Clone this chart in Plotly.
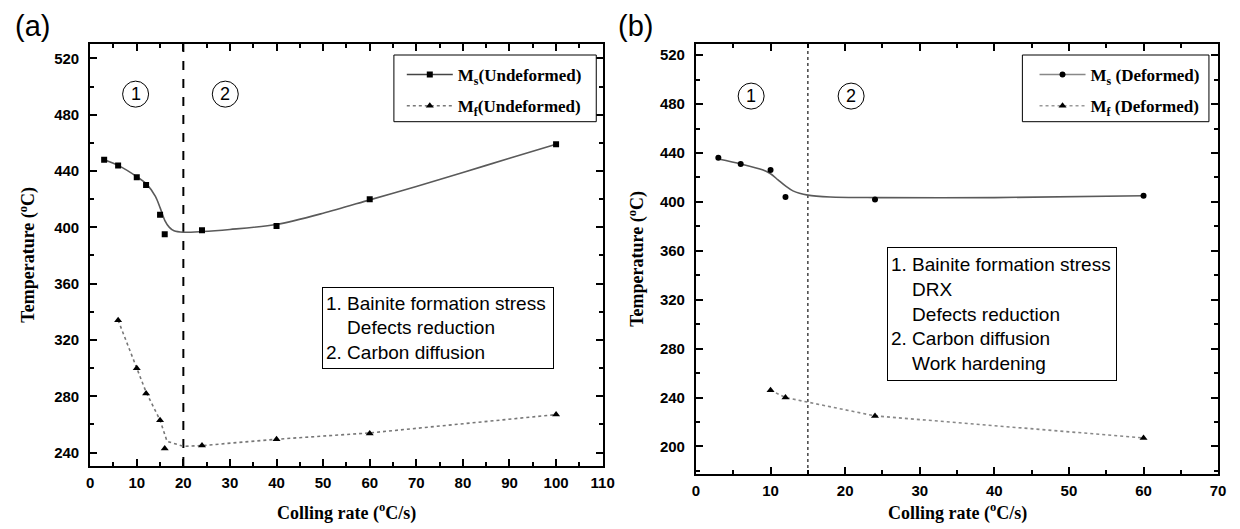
import plotly.graph_objects as go

# ---------------- data ----------------
# (a) undeformed
ms_und_x = [3, 6, 10, 12, 15, 16, 24, 40, 60, 100]
ms_und_y = [448, 444, 435.5, 430, 409, 395, 398, 401, 420, 459]
ms_und_fit_x = [3, 6, 10, 12, 14, 15, 16, 17, 18, 20, 24, 30, 40, 50, 60, 70, 80, 90, 100]
ms_und_fit_y = [448, 444, 436, 431, 422, 414, 405, 400, 397.5, 396.5, 397, 398.5, 402, 410, 419.5, 429, 439, 449, 459]
mf_und_x = [6, 10, 12, 15, 16, 24, 40, 60, 100]
mf_und_y = [334, 300, 282, 263, 243, 245, 249.5, 253.5, 267]
mf_und_fit_x = [6, 10, 12, 15, 16.5, 20, 24, 40, 60, 100]
mf_und_fit_y = [334, 300, 283, 263, 248, 244.5, 245, 249.5, 254, 267]

# (b) deformed
ms_def_x = [3, 6, 10, 12, 24, 60]
ms_def_y = [436, 431, 426, 404, 402, 405]
ms_def_fit_x = [3, 6, 9, 10, 11, 12, 13, 15, 18, 24, 40, 60]
ms_def_fit_y = [435, 431, 426, 423, 418, 413, 409, 405.5, 404, 403.5, 403.5, 405]
mf_def_x = [10, 12, 24, 60]
mf_def_y = [246, 240, 225, 207]

split_a = 20
split_b = 15

x_ticks_a = list(range(0, 111, 10))
y_ticks_a = list(range(240, 521, 40))
x_ticks_b = list(range(0, 71, 10))
y_ticks_b = list(range(200, 521, 40))

W, H = 1240, 529

def px(x):
    return x / W

def py(y):
    return (H - y) / H

fig = go.Figure()

CURVE = "#5a5a5a"

# ---- panel (a) ----
fig.add_trace(go.Scatter(x=ms_und_fit_x, y=ms_und_fit_y, mode="lines", line=dict(color=CURVE, width=1.6, shape="spline", smoothing=0.8),
                         showlegend=False, hoverinfo="skip", xaxis="x", yaxis="y"))
fig.add_trace(go.Scatter(x=ms_und_x, y=ms_und_y, mode="markers", marker=dict(symbol="square", size=6, color="black"),
                         showlegend=False, xaxis="x", yaxis="y"))
fig.add_trace(go.Scatter(x=mf_und_fit_x, y=mf_und_fit_y, mode="lines", line=dict(color="#777777", width=1.6, dash="dot"),
                         showlegend=False, hoverinfo="skip", xaxis="x", yaxis="y"))
fig.add_trace(go.Scatter(x=mf_und_x, y=mf_und_y, mode="markers", marker=dict(symbol="triangle-up", size=7, color="black"),
                         showlegend=False, xaxis="x", yaxis="y"))
# legend entries (a)
fig.add_trace(go.Scatter(x=[None], y=[None], mode="lines+markers", name="M<sub>s</sub>(Undeformed)",
                         line=dict(color="#444444", width=1.5), marker=dict(symbol="square", size=6, color="black"),
                         legend="legend", legendgroup="a1", xaxis="x", yaxis="y"))
fig.add_trace(go.Scatter(x=[None], y=[None], mode="lines+markers", name="M<sub>f</sub>(Undeformed)",
                         line=dict(color="#777777", width=1.5, dash="dot"), marker=dict(symbol="triangle-up", size=7, color="black"),
                         legend="legend", legendgroup="a2", xaxis="x", yaxis="y"))

# ---- panel (b) ----
fig.add_trace(go.Scatter(x=ms_def_fit_x, y=ms_def_fit_y, mode="lines", line=dict(color=CURVE, width=1.6, shape="spline", smoothing=0.8),
                         showlegend=False, hoverinfo="skip", xaxis="x2", yaxis="y2"))
fig.add_trace(go.Scatter(x=ms_def_x, y=ms_def_y, mode="markers", marker=dict(symbol="circle", size=6, color="black"),
                         showlegend=False, xaxis="x2", yaxis="y2"))
fig.add_trace(go.Scatter(x=mf_def_x, y=mf_def_y, mode="lines+markers", line=dict(color="#888888", width=1.6, dash="dot"),
                         marker=dict(symbol="triangle-up", size=7, color="black"),
                         showlegend=False, xaxis="x2", yaxis="y2"))
fig.add_trace(go.Scatter(x=[None], y=[None], mode="lines+markers", name="M<sub>s</sub> (Deformed)",
                         line=dict(color="#888888", width=1.5), marker=dict(symbol="circle", size=6, color="black"),
                         legend="legend2", legendgroup="b1", xaxis="x2", yaxis="y2"))
fig.add_trace(go.Scatter(x=[None], y=[None], mode="lines+markers", name="M<sub>f</sub> (Deformed)",
                         line=dict(color="#999999", width=1.5, dash="dot"), marker=dict(symbol="triangle-up", size=7, color="black"),
                         legend="legend2", legendgroup="b2", xaxis="x2", yaxis="y2"))

tickfont = dict(family="Liberation Sans, Arial", size=15, color="black")

def axis(domain, rng, tickvals, minor_dtick, anchor, standoff):
    return dict(domain=domain, range=rng, tickvals=tickvals, ticktext=["<b>%d</b>" % v for v in tickvals],
                showline=True, linecolor="black", linewidth=2,
                mirror="ticks", ticks="inside", ticklen=7, tickwidth=1.5, tickcolor="black",
                minor=dict(ticks="inside", ticklen=4, tickwidth=1.5, tickcolor="black", dtick=minor_dtick),
                showgrid=False, zeroline=False, tickfont=tickfont, anchor=anchor, ticklabelstandoff=standoff)

legfont = dict(family="Liberation Serif, Times New Roman", size=17, color="black", weight="bold")

fig.update_layout(
    width=W, height=H, margin=dict(l=0, r=0, t=0, b=0),
    paper_bgcolor="white", plot_bgcolor="white",
    xaxis=axis([px(87.3), px(606.5)], [0, 110], x_ticks_a, 5, "y", 2),
    yaxis=axis([py(466), py(44)], [230.5, 530.2], y_ticks_a, 20, "x", 6),
    xaxis2=axis([px(701), px(1230)], [0, 70], x_ticks_b, 5, "y2", 2),
    yaxis2=axis([py(474), py(43.5)], [177.5, 529.5], y_ticks_b, 20, "x2", 6),
    legend=dict(x=px(403), y=py(57), xanchor="left", yanchor="top", borderwidth=0,
                bgcolor="rgba(0,0,0,0)", font=legfont, tracegroupgap=6, traceorder="grouped", itemwidth=46),
    legend2=dict(x=px(1044), y=py(57), xanchor="left", yanchor="top", borderwidth=0,
                 bgcolor="rgba(0,0,0,0)", font=legfont, tracegroupgap=6, traceorder="grouped", itemwidth=46),
)

# legend frames
fig.add_shape(type="rect", xref="paper", yref="paper", x0=px(395), x1=px(600), y0=py(121.7), y1=py(55),
              line=dict(color="black", width=1), fillcolor="white", layer="above")
fig.add_shape(type="rect", xref="paper", yref="paper", x0=px(1031.7), x1=px(1220.7), y0=py(121.7), y1=py(55),
              line=dict(color="black", width=1), fillcolor="white", layer="above")

# dividing lines
fig.add_shape(type="line", xref="x", yref="y domain", x0=split_a, x1=split_a, y0=0, y1=1,
              line=dict(color="black", width=2, dash="dash"), layer="below")
fig.add_shape(type="line", xref="x2", yref="y2 domain", x0=split_b, x1=split_b, y0=0, y1=1,
              line=dict(color="#444444", width=1.5, dash="dot"), layer="below")

# circled region numbers
circles = [("x", "y", 9.75, 494.6, "1"), ("x", "y", 29.0, 494.6, "2"),
           ("x2", "y2", 7.4, 486.5, "1"), ("x2", "y2", 20.8, 486.5, "2")]
for xr, yr, cx, cy, t in circles:
    fig.add_shape(type="circle", xref=xr, yref=yr, xsizemode="pixel", ysizemode="pixel",
                  xanchor=cx, yanchor=cy, x0=-13, x1=13, y0=-13, y1=13, line=dict(color="black", width=1))
    fig.add_annotation(x=cx, y=cy, xref=xr, yref=yr, text=t, showarrow=False, xanchor="center", yanchor="middle",
                       font=dict(family="Liberation Sans, Arial", size=18, color="black"))

ind = "\u00a0" * 4
box_font = dict(family="Liberation Sans, Arial", size=19, color="black")
fig.add_annotation(xref="paper", yref="paper", x=px(321.7), y=py(286.7), xanchor="left", yanchor="top",
                   text="1. Bainite formation stress<br>" + ind + "Defects reduction<br>2. Carbon diffusion",
                   showarrow=False, align="left", font=box_font, bordercolor="black", borderwidth=1,
                   borderpad=3, bgcolor="white", width=224, height=74)
fig.add_annotation(xref="paper", yref="paper", x=px(895), y=py(247), xanchor="left", yanchor="top",
                   text="1. Bainite formation stress<br>" + ind + "DRX<br>" + ind + "Defects reduction<br>2. Carbon diffusion<br>" + ind + "Work hardening",
                   showarrow=False, align="left", font=box_font, bordercolor="black", borderwidth=1,
                   borderpad=3, bgcolor="white", width=222, height=126)

# axis titles
title_font = dict(family="Liberation Serif, Times New Roman", size=18, color="black", weight="bold")
for xc, yc, txt, ang in [(346.9, 512, "Colling rate (<sup>o</sup>C/s)", 0),
                         (965.5, 512, "Colling rate (<sup>o</sup>C/s)", 0),
                         (24, 255, "Temperature (<sup>o</sup>C)", -90),
                         (641, 259, "Temperature (<sup>o</sup>C)", -90)]:
    fig.add_annotation(xref="paper", yref="paper", x=px(xc), y=py(yc), text=txt, textangle=ang,
                       xanchor="center", yanchor="middle", showarrow=False, font=title_font)

# panel labels
pl_font = dict(family="Liberation Sans, Arial", size=29, color="black")
fig.add_annotation(xref="paper", yref="paper", x=px(29), y=py(26), text="(a)", showarrow=False,
                   xanchor="center", yanchor="middle", font=pl_font)
fig.add_annotation(xref="paper", yref="paper", x=px(640), y=py(26), text="(b)", showarrow=False,
                   xanchor="center", yanchor="middle", font=pl_font)

fig.write_html("out.html")
